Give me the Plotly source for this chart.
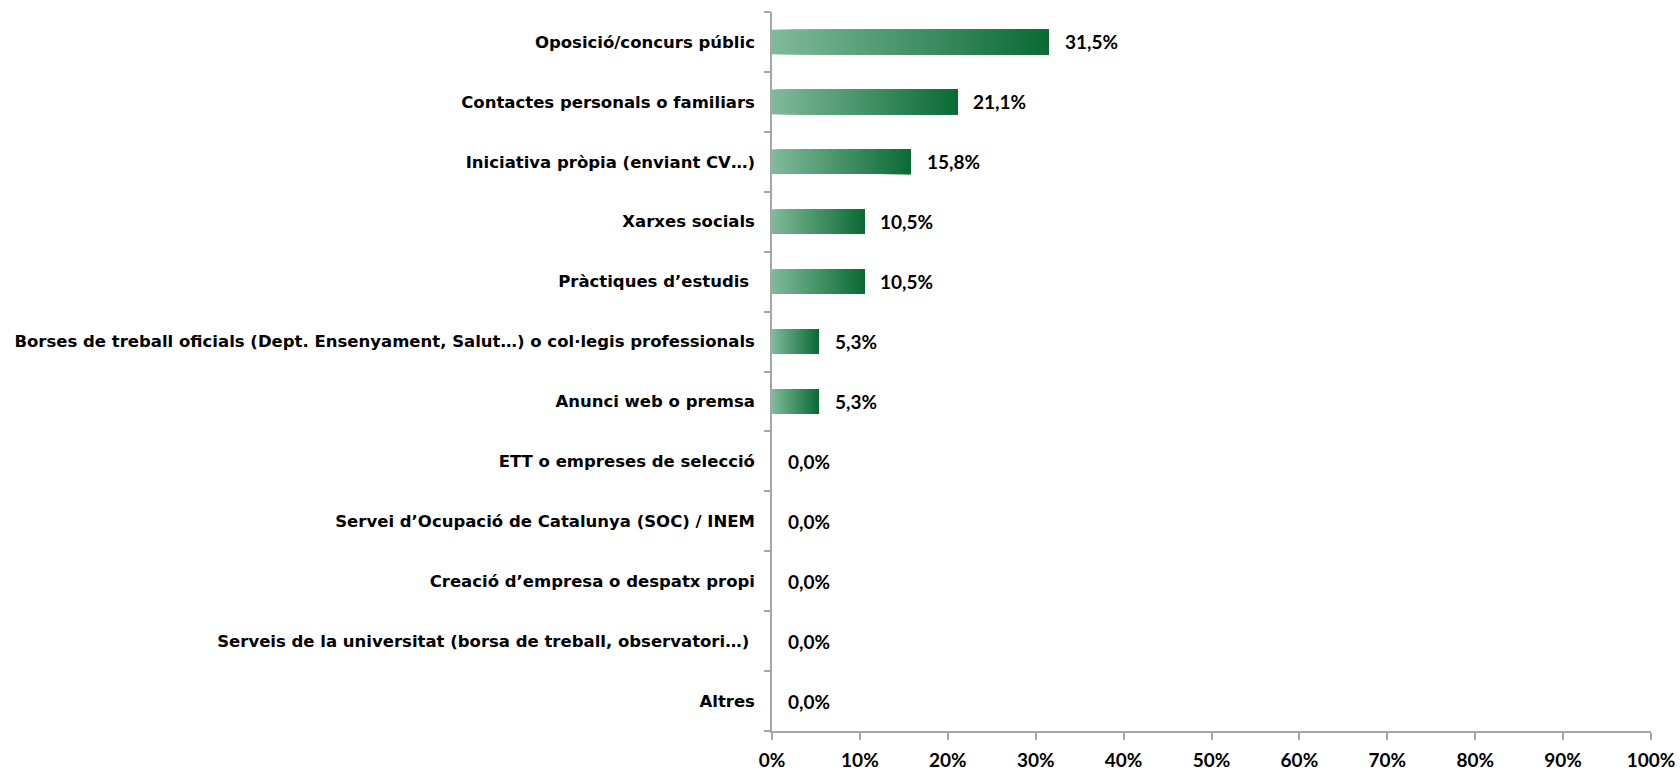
import plotly.graph_objects as go

# Categories, top to bottom
categories = [
    "Oposició/concurs públic",
    "Contactes personals o familiars",
    "Iniciativa pròpia (enviant CV…)",
    "Xarxes socials",
    "Pràctiques d’estudis\u00a0",
    "Borses de treball oficials (Dept. Ensenyament, Salut…) o col·legis professionals",
    "Anunci web o premsa",
    "ETT o empreses de selecció",
    "Servei d’Ocupació de Catalunya (SOC) / INEM",
    "Creació d’empresa o despatx propi",
    "Serveis de la universitat (borsa de treball, observatori…)\u00a0",
    "Altres",
]
values = [31.5, 21.1, 15.8, 10.5, 10.5, 5.3, 5.3, 0.0, 0.0, 0.0, 0.0, 0.0]
x_ticks = list(range(0, 101, 10))

# Horizontal gradient: light green on the left to dark green on the right
LIGHT = (128, 185, 154)
DARK = (11, 107, 53)
STEPS = 60

fig = go.Figure()
for k in range(STEPS):
    t = k / (STEPS - 1)
    r, g, b = (round(LIGHT[i] + (DARK[i] - LIGHT[i]) * t) for i in range(3))
    frac = k / STEPS
    fig.add_trace(go.Bar(
        y=categories,
        x=[v * (1 - frac) for v in values],
        base=[v * frac for v in values],
        orientation="h",
        width=0.41,
        marker=dict(color=f"rgb({r},{g},{b})", line=dict(width=0)),
        hoverinfo="skip",
        showlegend=False,
    ))

label_font = dict(family="Lato, Carlito, sans-serif", size=19, color="#000000", weight="bold")

for cat, v in zip(categories, values):
    fig.add_annotation(
        x=v, y=cat, xref="x", yref="y",
        text=f"{v:.1f}".replace(".", ",") + "%",
        showarrow=False, xanchor="left", yanchor="middle",
        xshift=14, font=label_font,
    )

fig.update_layout(
    width=1680, height=770,
    margin=dict(l=772, r=29, t=12, b=39),
    paper_bgcolor="white", plot_bgcolor="white",
    barmode="overlay",
    xaxis=dict(
        range=[0, 100],
        tickvals=x_ticks,
        ticktext=[f"{t}%" for t in x_ticks],
        showgrid=False, zeroline=False,
        showline=True, linecolor="#a6a6a6", linewidth=1.5,
        ticks="outside", ticklen=7, tickcolor="#a6a6a6", tickwidth=1.5,
        ticklabelstandoff=4,
        tickfont=label_font,
        automargin=False,
        fixedrange=True,
    ),
    yaxis=dict(
        type="category",
        categoryorder="array",
        categoryarray=list(reversed(categories)),
        range=[-0.5, len(categories) - 0.5],
        showgrid=False, zeroline=False,
        showline=True, linecolor="#a6a6a6", linewidth=1.5,
        ticks="outside", ticklen=6, tickcolor="#a6a6a6", tickwidth=1.5,
        tickson="boundaries",
        ticklabelstandoff=12,
        tickfont=dict(family="DejaVu Sans, Verdana, sans-serif", size=16.5, color="#000000", weight="bold"),
        automargin=False,
        fixedrange=True,
    ),
)

fig.write_html("out.html", config={"displayModeBar": False})
